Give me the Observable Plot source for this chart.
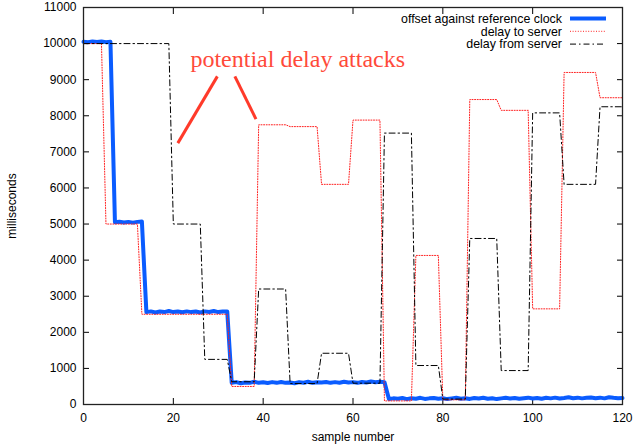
<!DOCTYPE html>
<html><head><meta charset="utf-8">
<script src="https://cdn.jsdelivr.net/npm/d3@7"></script>
<script src="https://cdn.jsdelivr.net/npm/@observablehq/plot@0.6"></script>
<style>
body{margin:0;background:#fff;}
#wrap{position:relative;width:644px;height:446px;overflow:hidden;}
#legend{position:absolute;left:0;top:0;}
</style></head><body><div id="wrap"></div>
<script>
// offset against reference clock, one value per sample 0..120
const offsetMs = [
  10050,10040,10060,10045,10060,10040,10050,
  5050,5065,5045,5060,5040,5060,5070,
  2560,2580,2550,2575,2560,2590,2560,2575,2555,2580,2560,2575,2550,2580,2565,2590,2560,2575,2580,
  600,620,590,610,600,630,600,615,595,620,600,625,600,610,590,620,605,630,600,615,610,625,600,620,605,630,610,620,600,625,610,635,615,630,620,
  150,170,160,180,150,175,160,185,155,170,180,160,175,150,170,185,160,175,155,180,165,185,160,175,150,170,185,165,180,160,175,190,165,180,160,185,170,190,165,180,200,175,190,170,185,195,175,190,170,200,185,175,180
];
// delay to server (vertices)
const toServerX  = [0,4,5,12,13,32,33,38,39,45,46,52,53,59,60,66,67,73,74,79,80,85,86,92,93,99,100,106,107,114,115,120];
const toServerMs = [10000,10000,5000,5000,2500,2500,500,500,7750,7750,7700,7700,6100,6100,7880,7880,100,100,4130,4130,130,130,8450,8450,8150,8150,2650,2650,9200,9200,8500,8500];
// delay from server (vertices)
const fromServerX  = [0,19,20,26,27,32,33,38,39,45,46,52,53,59,60,66,67,73,74,79,80,85,86,92,93,99,100,106,107,114,115,120];
const fromServerMs = [10000,10000,5000,5000,1250,1250,630,630,3200,3200,580,580,1420,1420,590,590,7520,7520,1080,1080,150,150,4600,4600,940,940,8080,8080,6100,6100,8250,8250];

const xTicks = [0,20,40,60,80,100,120];
const yTicks = [0,1000,2000,3000,4000,5000,6000,7000,8000,9000,10000,11000];

const seriesNames = ["offset against reference clock","delay to server","delay from server"];
const annotationText = "potential delay attacks";
const annotationTextX = [47.7];
const annotationTextY = [9570];
const pointerX1 = [29.8, 33.7];
const pointerY1 = [9092, 9092];
const pointerX2 = [21.0, 38.4];
const pointerY2 = [7242, 7908];

const offsetData = offsetMs.map((v,i)=>({x:i,y:v}));
const toData = toServerX.map((x,i)=>({x, y: toServerMs[i]}));
const fromData = fromServerX.map((x,i)=>({x, y: fromServerMs[i]}));
const pointers = pointerX1.map((x1,i)=>({x1, y1: pointerY1[i], x2: pointerX2[i], y2: pointerY2[i]}));

const colBlue = "#0a5cff", colRed = "#ff2020", colBlack = "#000", colAnno = "#ff3a2a", colAnnoText = "#ff4a3a";
const dashDot = "6,3,1.5,3";
const dotted = "1,1.6";

const chart = Plot.plot({
  width: 644, height: 446,
  marginLeft: 83, marginRight: 22, marginTop: 7, marginBottom: 42,
  style: {fontFamily: "'Liberation Sans', Arial, sans-serif", fontSize: "12px", color: "#000", background: "#fff"},
  x: {domain: [0,120]},
  y: {domain: [0,11000]},
  marks: [
    Plot.axisX({ticks: xTicks, tickSize: -6, tickPadding: 15, label: "sample number", labelAnchor: "center", labelArrow: false, labelOffset: 36, tickFormat: d=>String(d)}),
    Plot.axisX({anchor: "top", ticks: xTicks, tickSize: -6, tickFormat: ()=>"", label: null}),
    Plot.axisY({ticks: yTicks, tickSize: -6, tickPadding: 13, label: "milliseconds", labelAnchor: "center", labelArrow: false, labelOffset: 76, tickFormat: d=>String(d)}),
    Plot.axisY({anchor: "right", ticks: yTicks, tickSize: -6, tickFormat: ()=>"", label: null}),
    Plot.line(offsetData, {x:"x", y:"y", stroke: colBlue, strokeWidth: 4, strokeLinejoin: "round"}),
    Plot.line(toData, {x:"x", y:"y", stroke: colRed, strokeWidth: 1, strokeDasharray: dotted}),
    Plot.line(fromData, {x:"x", y:"y", stroke: colBlack, strokeWidth: 1, strokeDasharray: dashDot}),
    Plot.link(pointers, {x1:"x1", y1:"y1", x2:"x2", y2:"y2", stroke: colAnno, strokeWidth: 3}),
    Plot.text([annotationText], {x: annotationTextX, y: annotationTextY, text: d=>d, fill: colAnnoText, fontFamily: "'Liberation Serif', 'DejaVu Serif', serif", fontSize: 24, textAnchor: "middle"}),
    Plot.frame({stroke: "#222", strokeWidth: 1.3})
  ]
});
const wrap = document.getElementById("wrap");
wrap.appendChild(chart);

// legend overlay (top-right, inside plot)
const legendStyles = [
  {stroke: colBlue, width: 4, dash: null},
  {stroke: colRed, width: 1, dash: dotted},
  {stroke: colBlack, width: 1, dash: dashDot}
];
const lg = d3.select(wrap).append("svg").attr("id","legend").attr("width",644).attr("height",60)
  .style("font-family","'Liberation Sans', Arial, sans-serif").style("font-size","12.4px");
seriesNames.forEach((name,i)=>{
  const cy = 18.5 + i*12.8;
  lg.append("text").attr("x",562).attr("y",cy).attr("dy","0.35em").attr("text-anchor","end").attr("fill","#000").text(name);
  const l = lg.append("line").attr("x1",570).attr("x2",606).attr("y1",cy).attr("y2",cy)
    .attr("stroke",legendStyles[i].stroke).attr("stroke-width",legendStyles[i].width);
  if (legendStyles[i].dash) l.attr("stroke-dasharray",legendStyles[i].dash);
});
</script></body></html>
